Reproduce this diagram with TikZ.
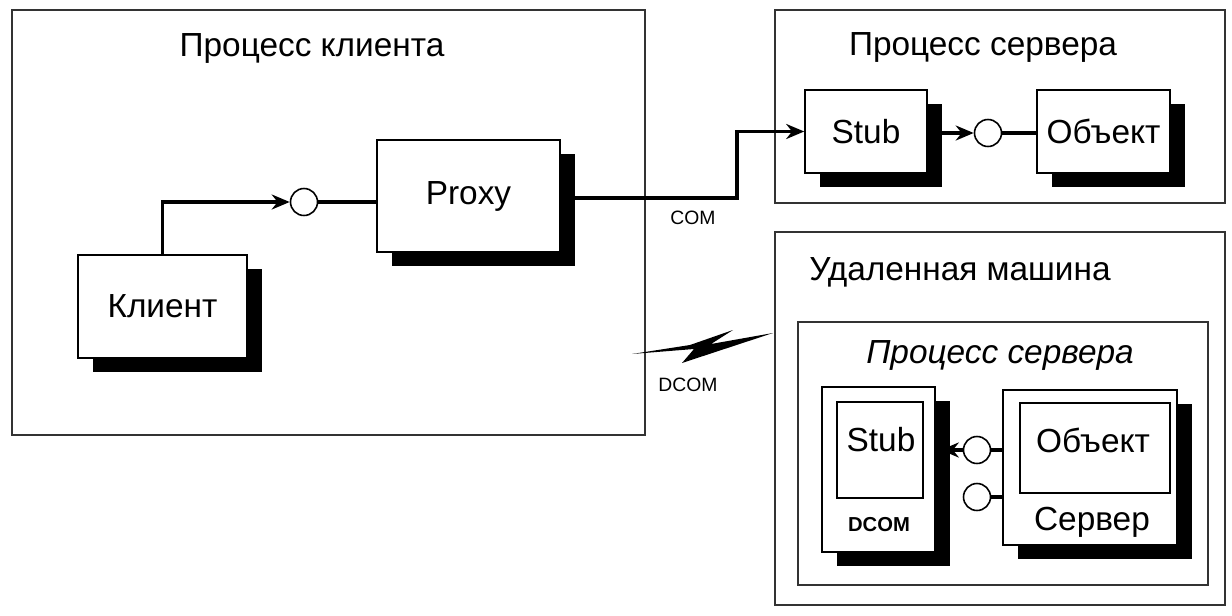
\documentclass[tikz,border=0pt]{standalone}
\usepackage{fontspec}
\setmainfont{Liberation Sans}
\usetikzlibrary{arrows.meta,shadows,calc}
\tikzset{
  boite/.style={draw=black,line width=0.9pt,fill=white,inner sep=0pt,
                drop shadow={shadow xshift=0.3cm,shadow yshift=-0.28cm,fill=black,opacity=1},
                font=\fontsize{19}{22}\selectfont},
  boiteint/.style={draw=black,line width=0.9pt,fill=white,inner sep=0pt},
  cadre/.style={draw=black!80,line width=1pt},
  titre/.style={font=\fontsize{19}{22}\selectfont},
  petit/.style={font=\fontsize{11}{13}\selectfont},
  fleche/.style={-{Stealth[length=3.6mm,width=3mm]},line width=1.8pt},
  lien/.style={line width=1.8pt},
  interface/.style={circle,draw=black,line width=0.9pt,fill=white,minimum size=0.54cm,inner sep=0pt},
}
\begin{document}
\begin{tikzpicture}[x=0.02cm,y=-0.02cm]
  \useasboundingbox (0,0) rectangle (1232,616);
  % cadres des processus
  \draw[cadre] (12,10) rectangle (645,435);
  \draw[cadre] (775,10) rectangle (1225,203);
  \draw[cadre] (775,232) rectangle (1225,605);
  \draw[cadre] (798,322) rectangle (1208,585);
  \node[titre] (tclient) at (312,48) {Процесс клиента};
  \node[titre] (tserveur) at (983,47) {Процесс сервера};
  \node[titre] (tdistant) at (960,272) {Удаленная машина};
  \node[titre,font=\fontsize{19}{22}\selectfont\itshape] (tserveurd) at (1000,355) {Процесс сервера};
  % processus client
  \node[boite,minimum width=3.38cm,minimum height=2.06cm] (client) at (162.5,306.5) {Клиент};
  \node[boite,minimum width=3.66cm,minimum height=2.24cm] (proxy) at (468.5,196) {Proxy};
  \node[interface] (i1) at (304,202) {};
  % processus serveur local
  \node[boite,minimum width=2.44cm,minimum height=1.66cm] (stub) at (866,131.5) {Stub};
  \node[boite,minimum width=2.66cm,minimum height=1.66cm] (objet) at (1103.5,131.5) {Объект};
  \node[interface] (i2) at (988,133) {};
  % machine distante
  \node[boite,minimum width=2.26cm,minimum height=3.3cm] (dstub) at (878.5,469.5) {};
  \node[boiteint,minimum width=1.72cm,minimum height=1.92cm] (dstubint) at (880,450) {};
  \node[titre] (tstub) at (881,440) {Stub};
  \node[petit,font=\fontsize{11.5}{13}\selectfont\bfseries] (tdcom) at (879,525) {DCOM};
  \node[boite,minimum width=3.48cm,minimum height=3.1cm] (serveur) at (1090,467.5) {};
  \node[boiteint,minimum width=3cm,minimum height=1.8cm] (objetint) at (1095,448) {};
  \node[titre] (tobjet) at (1093,440) {Объект};
  \node[titre] (tserv) at (1092,522) {Сервер};
  \node[interface] (i3) at (977,450) {};
  \node[interface] (i4) at (977,497) {};
  % liaisons
  \coordinate (coude) at (737,198);
  \draw[fleche] (client.north) |- (i1.west);
  \draw[lien] (i1.east) -- (proxy.west|-i1);
  \draw[fleche] (proxy.east|-coude) -- (coude) |- (stub.west);
  \node[petit] (com) at (693,218) {COM};
  \draw[fleche] (stub.east|-i2) -- (i2.west);
  \draw[lien] (i2.east) -- (objet.west|-i2);
  \draw[fleche] (i3.west) -- ($(dstub.east|-i3)+(5,0)$);
  \draw[lien] (i3.east) -- (serveur.west|-i3);
  \draw[lien] (i4.east) -- (serveur.west|-i4);
  % eclair DCOM
  \fill (632,354) -- (690,345) -- (733,330) -- (711,344) -- (773,333) -- (682,363) -- (694,349) -- cycle;
  \node[petit] (dcom) at (688,385) {DCOM};
\end{tikzpicture}
\end{document}
